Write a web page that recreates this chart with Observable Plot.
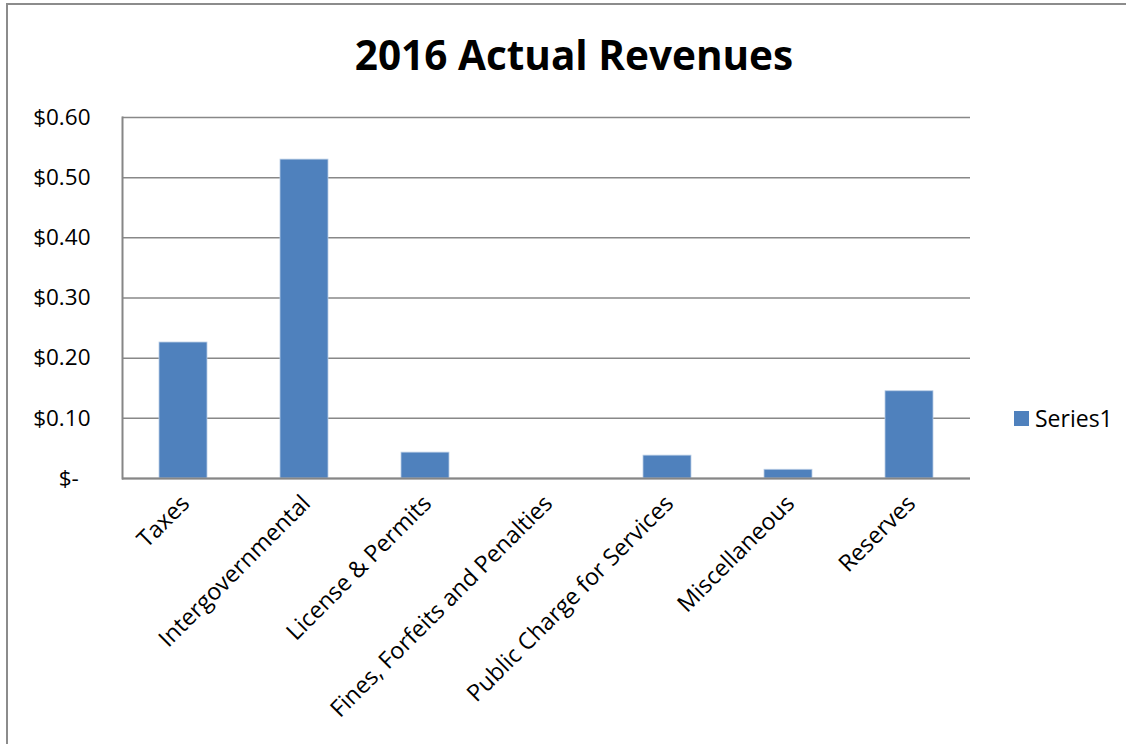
<!DOCTYPE html>
<html>
<head>
<meta charset="utf-8">
<script src="https://cdn.jsdelivr.net/npm/d3@7"></script>
<script src="https://cdn.jsdelivr.net/npm/@observablehq/plot@0.6"></script>
<style>
  html, body { margin: 0; padding: 0; background: #fff; overflow: hidden; }
  body { width: 1126px; height: 744px; position: relative; font-family: "Open Sans", Lato, sans-serif; }
  #frame { position: absolute; left: 6px; top: 3px; width: 1300px; height: 900px; border: 2px solid #8c8c8c; box-sizing: border-box; }
  #title { position: absolute; left: 0; top: 27px; width: 1148px; text-align: center; font-size: 40.5px; line-height: 56px; font-weight: bold; color: #000; }
  #legend { position: absolute; left: 1014px; top: 402px; font-size: 23px; display: flex; align-items: center; color: #000; }
  #legend .sw { width: 15px; height: 15px; background: #4f81bd; margin-right: 6px; }
  #chart { position: absolute; left: 0; top: 0; }
</style>
</head>
<body>
<div id="frame"></div>
<div id="title">2016 Actual Revenues</div>
<div id="chart"></div>
<div id="legend"><div class="sw"></div><span>Series1</span></div>
<script>
const categories = ["Taxes", "Intergovernmental", "License & Permits", "Fines, Forfeits and Penalties", "Public Charge for Services", "Miscellaneous", "Reserves"];
const values = [0.226, 0.530, 0.043, 0, 0.038, 0.0145, 0.145];
const yTicks = [0, 0.1, 0.2, 0.3, 0.4, 0.5, 0.6];
const seriesName = "Series1";

const data = categories.map((c, i) => ({category: c, value: values[i], series: seriesName}));

const chart = Plot.plot({
  width: 1126,
  height: 744,
  marginLeft: 122,
  marginRight: 156,
  marginTop: 117,
  marginBottom: 266,
  style: {fontFamily: "'Open Sans', Lato, sans-serif", fontSize: "22px", color: "#000", background: "transparent"},
  x: {domain: categories, paddingInner: 0.6, paddingOuter: 0.3, label: null},
  y: {domain: [0, 0.6], label: null},
  marks: [
    Plot.gridY(yTicks, {stroke: "#888", strokeOpacity: 1, strokeWidth: 1.5}),
    Plot.barY(data, {x: "category", y: "value", fill: "#4f81bd", stroke: "#b9cde5", strokeWidth: 0.8}),
    Plot.axisY({ticks: yTicks, tickSize: 0, tickPadding: 32, fontSize: 22.5,
      tickFormat: d => d === 0 ? "$-\u00a0\u00a0" : "$" + d.toFixed(2)}),
    Plot.axisX({tickSize: 0, tickRotate: -45, fontSize: 23.3, tickPadding: 21, dx: 2}),
    Plot.ruleY([0], {stroke: "#868686", strokeWidth: 2}),
    Plot.frame({anchor: "left", stroke: "#868686", strokeWidth: 2})
  ]
});
document.getElementById("chart").appendChild(chart);
</script>
</body>
</html>
